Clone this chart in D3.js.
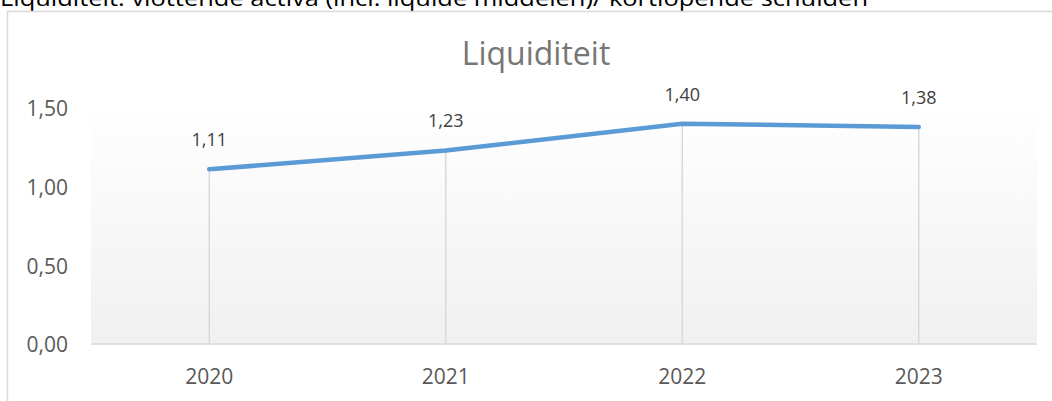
<!DOCTYPE html>
<html>
<head>
<meta charset="utf-8">
<script src="https://cdn.jsdelivr.net/npm/d3@7"></script>
<style>
  body { margin: 0; background: #fff; overflow: hidden; }
  svg { display: block; font-family: "Open Sans", sans-serif; }
</style>
</head>
<body>
<div id="chart"></div>
<script>
var years = ["2020", "2021", "2022", "2023"];
var values = [1.11, 1.23, 1.40, 1.38];
var yTicks = [0, 0.5, 1.0, 1.5];
var caption = "Liquiditeit: vlottende activa (incl. liquide middelen)/ kortlopende schulden";
var title = "Liquiditeit";

var W = 1052, H = 401;
var plotL = 91, plotR = 1037, plotT = 108, plotB = 344;

var fmt = function(v) { return d3.format(".2f")(v).replace(".", ","); };

var svg = d3.select("#chart")
  .append("svg")
  .attr("width", W)
  .attr("height", H);

var defs = svg.append("defs");
var grad = defs.append("linearGradient")
  .attr("id", "plotbg")
  .attr("x1", 0).attr("y1", 0).attr("x2", 0).attr("y2", 1);
grad.append("stop").attr("offset", "0%").attr("stop-color", "#ffffff");
grad.append("stop").attr("offset", "100%").attr("stop-color", "#f0f0f0");

// caption above the chart frame (cut off at the top)
svg.append("text")
  .attr("x", 0)
  .attr("y", 6)
  .attr("font-size", "21px")
  .attr("fill", "#000")
  .attr("textLength", 868)
  .attr("lengthAdjust", "spacingAndGlyphs")
  .text(caption);

// chart frame
svg.append("rect")
  .attr("x", 7.5)
  .attr("y", 11.5)
  .attr("width", 1200)
  .attr("height", 600)
  .attr("fill", "#fff")
  .attr("stroke", "#d9d9d9")
  .attr("stroke-width", 1.5);

var x = d3.scaleBand().domain(years).range([plotL, plotR]);
var y = d3.scaleLinear().domain([0, 1.5]).range([plotB, plotT]);

// plot area
svg.append("rect")
  .attr("x", plotL)
  .attr("y", plotT)
  .attr("width", plotR - plotL)
  .attr("height", plotB - plotT)
  .attr("fill", "url(#plotbg)");

// title
svg.append("text")
  .attr("x", 536)
  .attr("y", 65)
  .attr("text-anchor", "middle")
  .attr("font-size", "32px")
  .attr("fill", "#767676")
  .text(title);

var cx = function(d) { return x(d) + x.bandwidth() / 2; };

// drop lines
svg.selectAll("line.drop")
  .data(values)
  .enter()
  .append("line")
  .attr("class", "drop")
  .attr("x1", function(d, i) { return cx(years[i]); })
  .attr("x2", function(d, i) { return cx(years[i]); })
  .attr("y1", function(d) { return y(d); })
  .attr("y2", y(0))
  .attr("stroke", "#d9d9d9")
  .attr("stroke-width", 1.5);

// x axis line
svg.append("line")
  .attr("x1", plotL).attr("x2", plotR)
  .attr("y1", y(0)).attr("y2", y(0))
  .attr("stroke", "#d9d9d9")
  .attr("stroke-width", 1.5);

// y tick labels
svg.selectAll("text.ytick")
  .data(yTicks)
  .enter()
  .append("text")
  .attr("class", "ytick")
  .attr("x", 68)
  .attr("y", function(d) { return y(d); })
  .attr("dy", "0.4em")
  .attr("text-anchor", "end")
  .attr("font-size", "21px")
  .attr("fill", "#595959")
  .text(fmt);

// x labels
svg.selectAll("text.xtick")
  .data(years)
  .enter()
  .append("text")
  .attr("class", "xtick")
  .attr("x", cx)
  .attr("y", 384)
  .attr("text-anchor", "middle")
  .attr("font-size", "21px")
  .attr("fill", "#595959")
  .text(function(d) { return d; });

// the line
var line = d3.line()
  .x(function(d, i) { return cx(years[i]); })
  .y(function(d) { return y(d); });

svg.append("path")
  .datum(values)
  .attr("d", line)
  .attr("fill", "none")
  .attr("stroke", "#5b9bd5")
  .attr("stroke-width", 4.5)
  .attr("stroke-linecap", "round")
  .attr("stroke-linejoin", "round");

// data labels
svg.selectAll("text.dlabel")
  .data(values)
  .enter()
  .append("text")
  .attr("class", "dlabel")
  .attr("x", function(d, i) { return cx(years[i]); })
  .attr("y", function(d) { return y(d) - 23; })
  .attr("text-anchor", "middle")
  .attr("font-size", "18px")
  .attr("fill", "#404040")
  .text(fmt);
</script>
</body>
</html>
